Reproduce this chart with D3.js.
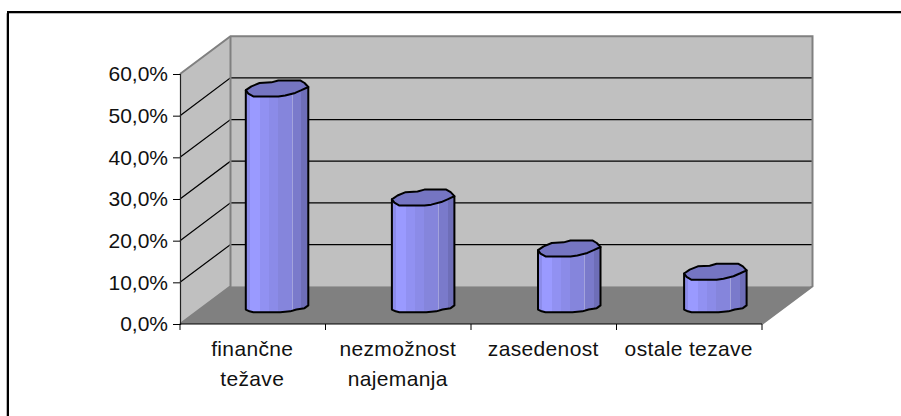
<!DOCTYPE html>
<html>
<head>
<meta charset="utf-8">
<style>
  html, body { margin: 0; padding: 0; background: #fff; }
  svg { display: block; }
  text { font-family: "Liberation Sans", Arial, sans-serif; font-size: 21px; fill: #111; }
  .cat { letter-spacing: 0.35px; }
</style>
</head>
<body>
<script src="https://cdn.jsdelivr.net/npm/d3@7"></script>
<script>
/// Chart data
var categories = ["finančne težave", "nezmožnost najemanja", "zasedenost", "ostale tezave"];
var labelLines = [["finančne", "težave"], ["nezmožnost", "najemanja"], ["zasedenost"], ["ostale tezave"]];
var values = [52, 25.8, 13.6, 8];
var yTicks = [0, 10, 20, 30, 40, 50, 60];

/// Outline of the blocky cylinder, u across the bar, v across the cap height
var capOutline = [[0,.11],[.09,-.13],[.22,-.34],[.41,-.38],[.52,-.5],[.87,-.5],[.94,-.34],[1,-.09],
                  [.89,.11],[.79,.28],[.63,.44],[.52,.5],[.12,.5],[.04,.32]];
var baseOutline = [[0,.28],[.06,.39],[.12,.45],[.55,.45],[.71,.39],[.81,.27],[.94,.19],[1,.02]];

/// Vertical facets of the bar side
var facets = [[0,"#8c8cea"],[.06,"#9a9aff"],[.23,"#9191f2"],[.37,"#8b8be8"],[.51,"#8585dc"],
              [.74,"#a3a3dc"],[.755,"#7a7acb"],[.89,"#6e6eb8"],[1,"#6e6eb8"]];

var width = 901, height = 416;
var dx = 50.5, dy = -37.8;      /// depth of the 3D box
var capH = 16;

var x = d3.scaleBand().domain(categories).range([180, 762]);
var barX = d3.scaleBand().domain(categories).range([204, 788.4]); /// bars sit mid depth
var y = d3.scaleLinear().domain([0, 60]).range([324, 74]);
var barW = 62.5;

var svg = d3.select("body").append("svg")
    .attr("width", width)
    .attr("height", height);

/// Gradient with hard stops for the facets
var grad = svg.append("defs").append("linearGradient").attr("id", "side");
facets.forEach(function(f, i) {
    grad.append("stop").attr("offset", f[0]).attr("stop-color", f[1]);
    if (i < facets.length - 1)
	grad.append("stop").attr("offset", facets[i + 1][0]).attr("stop-color", f[1]);
});

/// Frame, open on the right and at the bottom
svg.append("path").attr("d", "M6.5,416V13.5H901").attr("fill", "none").attr("stroke", "#b8b8b8");
svg.append("path").attr("d", "M8,416V12H901").attr("fill", "none").attr("stroke", "#000").attr("stroke-width", 2);

var x0 = x.range()[0], x1 = x.range()[1];
var line = d3.line();

/// Walls and floor
svg.append("path")
    .attr("d", line([[x0, y(60)], [x0 + dx, y(60) + dy], [x0 + dx, y(0) + dy], [x0, y(0)]]) + "Z")
    .attr("fill", "#c0c0c0");
svg.append("path")
    .attr("d", line([[x0 + dx, y(60) + dy], [x1 + dx, y(60) + dy], [x1 + dx, y(0) + dy], [x0 + dx, y(0) + dy]]) + "Z")
    .attr("fill", "#c0c0c0");
svg.append("path")
    .attr("d", line([[x0, y(0)], [x0 + dx, y(0) + dy], [x1 + dx, y(0) + dy], [x1, y(0)]]) + "Z")
    .attr("fill", "#808080");

/// Gridlines, wall and side wall
svg.append("g").selectAll("path")
    .data(yTicks.filter(function(d) { return d > 0 && d < 60; }))
    .enter().append("path")
    .attr("d", function(d) {
	return line([[x0, y(d)], [x0 + dx, y(d) + dy], [x1 + dx, y(d) + dy]]);
    })
    .attr("fill", "none")
    .attr("stroke", "#000")
    .attr("stroke-width", 1.2);

/// Wall edges
svg.append("path")
    .attr("d", line([[x0, y(60)], [x0 + dx, y(60) + dy], [x1 + dx, y(60) + dy], [x1 + dx, y(0) + dy], [x1, y(0)]]))
    .attr("fill", "none").attr("stroke", "#808080").attr("stroke-width", 2);
svg.append("path")
    .attr("d", line([[x0 + dx, y(60) + dy], [x0 + dx, y(0) + dy], [x0, y(0)]]))
    .attr("fill", "none").attr("stroke", "#808080").attr("stroke-width", 2);

/// Axes
var yAxis = d3.axisLeft(y)
    .tickValues(yTicks)
    .tickSize(7)
    .tickPadding(5)
    .tickFormat(function(d) { return d.toFixed(1).replace(".", ",") + "%"; });
var yG = svg.append("g").attr("transform", "translate(" + x0 + ",0)").call(yAxis);
yG.select(".domain").attr("stroke", "#222").attr("stroke-width", 1.2);
yG.selectAll("text").attr("dy", "0.33em");

var xAxis = d3.axisBottom(x).tickSize(0).tickPadding(0).tickFormat("");
var xG = svg.append("g").attr("transform", "translate(0," + y(0) + ")").call(xAxis);
xG.select(".domain").attr("stroke", "#000").attr("stroke-width", 1.2).attr("d", "M" + x0 + ",0H" + x1);

/// Ticks go between the categories
xG.selectAll("line.bound")
    .data(d3.range(categories.length + 1))
    .enter().append("line")
    .attr("class", "bound")
    .attr("x1", function(i) { return x0 + i * x.step(); })
    .attr("x2", function(i) { return x0 + i * x.step(); })
    .attr("y1", 0)
    .attr("y2", 6)
    .attr("stroke", "#000");

/// Category labels, one tspan per line
xG.selectAll(".tick text")
    .attr("class", "cat")
    .each(function(d, i) {
	var t = d3.select(this).attr("y", 0).attr("dy", null);
	labelLines[i].forEach(function(s, k) {
	    t.append("tspan")
		.attr("x", -0.5)
		.attr("y", 32 + k * 30)
		.text(s);
	});
    });

/// Bars
function outline(pts, cx, cy) {
    return pts.map(function(p) {
	return [cx - barW / 2 + p[0] * barW, cy + p[1] * capH];
    });
}
function barCenter(i) {
    return barX(categories[i]) + barX.bandwidth() / 2;
}

var bars = svg.append("g").selectAll("g")
    .data(values)
    .enter().append("g");

bars.append("path")
    .attr("d", function(d, i) {
	var cap = outline(capOutline, barCenter(i), y(d) + dy / 2);
	var bot = outline(baseOutline, barCenter(i), y(0) + dy / 2);
	return line([cap[0]].concat(bot).concat([cap[7]])) + "Z";
    })
    .attr("fill", "url(#side)")
    .attr("stroke", "#000")
    .attr("stroke-width", 2)
    .attr("stroke-linejoin", "round");

bars.append("path")
    .attr("d", function(d, i) {
	return line(outline(capOutline, barCenter(i), y(d) + dy / 2)) + "Z";
    })
    .attr("fill", "#7575c2")
    .attr("stroke", "#000")
    .attr("stroke-width", 2)
    .attr("stroke-linejoin", "round");
</script>
</body>
</html>
